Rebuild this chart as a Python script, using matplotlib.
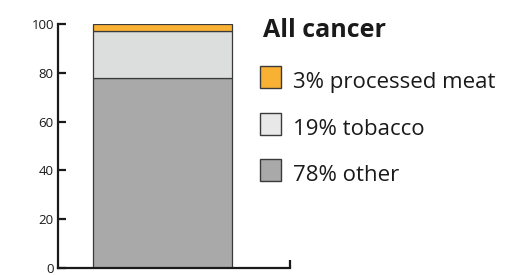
import matplotlib.pyplot as plt
from matplotlib.patches import Rectangle

# stacked shares of all cancer (percent)
labels = ['3% processed meat', '19% tobacco', '78% other']
shares = [3, 19, 78]
bar_colors = ['#F8B133', '#DCDDDD', '#A9A9A9']
patch_colors = ['#F8B133', '#E8E8E8', '#A9A9A9']
yticks = [0, 20, 40, 60, 80, 100]

plt.rcParams['font.family'] = ['Open Sans', 'DejaVu Sans']

fig = plt.figure(figsize=(5.25, 2.75), dpi=100)
ax = fig.add_axes([58 / 525, 1 - 268 / 275, 232 / 525, 244 / 275])

# stack from the bottom: other, tobacco, processed meat
bottom = 0
for share, color in zip(shares[::-1], bar_colors[::-1]):
    ax.bar(0.45, share, width=0.6, bottom=bottom, color=color,
           edgecolor='#3a3a3a', linewidth=0.9)
    bottom += share

ax.set_xlim(0, 1)
ax.set_ylim(0, 100)
ax.set_yticks(yticks)
ax.set_xticks([1])
ax.set_xticklabels([''])
for side in ['top', 'right']:
    ax.spines[side].set_visible(False)
for side in ['left', 'bottom']:
    ax.spines[side].set_linewidth(1.6)
    ax.spines[side].set_color('#1a1a1a')
ax.tick_params(direction='in', length=6, width=1.6, color='#1a1a1a',
               labelsize=9.5, labelcolor='#1a1a1a', pad=3)
for lab in ax.get_yticklabels():
    lab.set_clip_on(False)

# title and legend on the right (baselines in pixels from top)
fig.text(263 / 525, 1 - 37 / 275, 'All cancer', fontsize=18, fontweight='bold',
         color='#1a1a1a', va='baseline', ha='left')
rows_bottom = [88, 135, 181]
for lab, col, y in zip(labels, patch_colors, rows_bottom):
    fig.add_artist(Rectangle((260 / 525, 1 - y / 275), 21 / 525, 22 / 275,
                             transform=fig.transFigure, facecolor=col,
                             edgecolor='#3a3a3a', linewidth=1.0))
    fig.text(293 / 525, 1 - y / 275, lab, fontsize=16, color='#1a1a1a',
             va='baseline', ha='left')

fig.savefig('out.png', dpi=100)
